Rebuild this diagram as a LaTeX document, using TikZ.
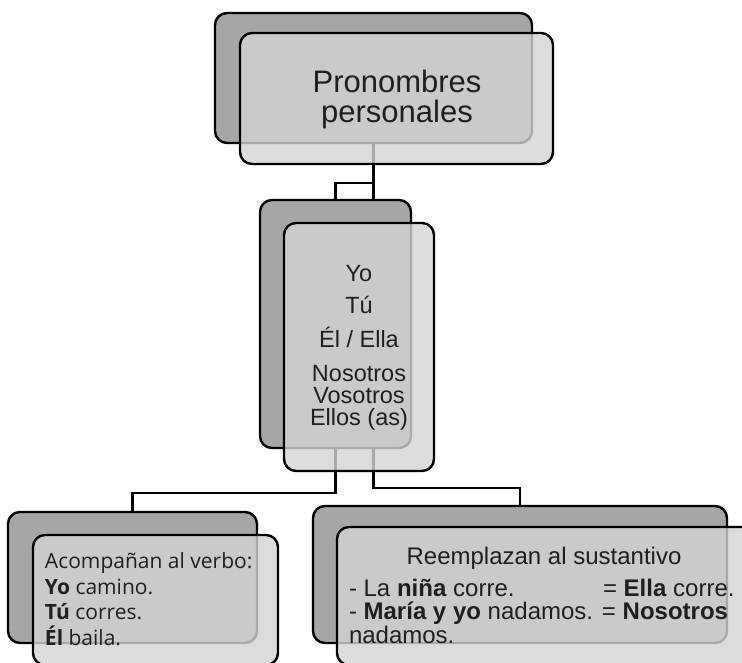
\documentclass[tikz,border=0pt]{standalone}
\usepackage{fontspec}
\setmainfont{Liberation Sans}
\newfontfamily\osans{Open Sans}
\definecolor{backgray}{HTML}{A6A6A6}
\definecolor{frontgray}{HTML}{D4D4D4}
\tikzset{
  backbox/.style={draw=black, line width=2.4pt, rounded corners=12pt, fill=backgray, inner sep=0pt, outer sep=0pt},
  frontbox/.style={draw=black, line width=2.4pt, rounded corners=12pt, fill=frontgray, fill opacity=0.8, draw opacity=1, inner sep=0pt, outer sep=0pt},
  conn/.style={draw=black, line width=2.4pt},
  txt/.style={inner sep=0pt, outer sep=0pt, text=black!88}
}
\begin{document}
\begin{tikzpicture}[x=1pt, y={(0pt,-1pt)}]
\clip (0,0) rectangle (742,662);
\fill[white] (0,0) rectangle (742,662);
% back boxes
\node[backbox, minimum width=317pt, minimum height=130pt] (topB) at (373.5,78) {};
\node[backbox, minimum width=151pt, minimum height=248pt] (midB) at (335.5,324) {};
\node[backbox, minimum width=249pt, minimum height=131pt] (leftB) at (132.5,577.5) {};
\node[backbox, minimum width=414pt, minimum height=137pt] (rightB) at (520,574.5) {};
% connectors
\draw[conn] (topB.south) -- (topB.south |- midB.north);
\draw[conn] (topB.south) -- ++(0,40) -| (midB.north);
\draw[conn] (midB.south) -- ++(0,45) -| (leftB.north);
\draw[conn] (midB.south -| topB.south) -- ++(0,40) -| (rightB.north);
% front boxes
\node[frontbox, minimum width=313pt, minimum height=131pt] (topF) at (396.5,98.5) {};
\node[frontbox, minimum width=150pt, minimum height=248pt] (midF) at (359,347) {};
\node[frontbox, minimum width=245pt, minimum height=130pt] (leftF) at (155.5,600) {};
\node[frontbox, minimum width=423pt, minimum height=138pt] (rightF) at (548.5,596) {};
% texts (base anchor = baseline of the last line)
\node[txt, anchor=base, align=center, font=\fontsize{31}{30}\selectfont] (topT) at (397,122) {Pronombres\\personales};
\node[txt, anchor=base, align=center, font=\fontsize{23.5}{22}\selectfont] (midT) at (359,425) {Yo\\[10pt]Tú\\[12pt]Él / Ella\\[12pt]Nosotros\\Vosotros\\Ellos (as)};
\node[txt, anchor=base west, align=left, font=\osans\fontsize{21}{25.5}\selectfont] (leftT) at (45,645) {Acompañan al verbo:\\\textbf{Yo} camino.\\\textbf{Tú} corres.\\\textbf{Él} baila.};
\node[txt, anchor=base, font=\fontsize{24}{23.5}\selectfont] (rightH) at (544,564) {Reemplazan al sustantivo};
\node[txt, anchor=base west, align=left, font=\fontsize{24}{23.5}\selectfont] (rightT) at (349,643) {\makebox[254pt][l]{- La \textbf{niña} corre.}= \textbf{Ella} corre.\\- \textbf{María y yo} nadamos. = \textbf{Nosotros}\\nadamos.};
\end{tikzpicture}
\end{document}
